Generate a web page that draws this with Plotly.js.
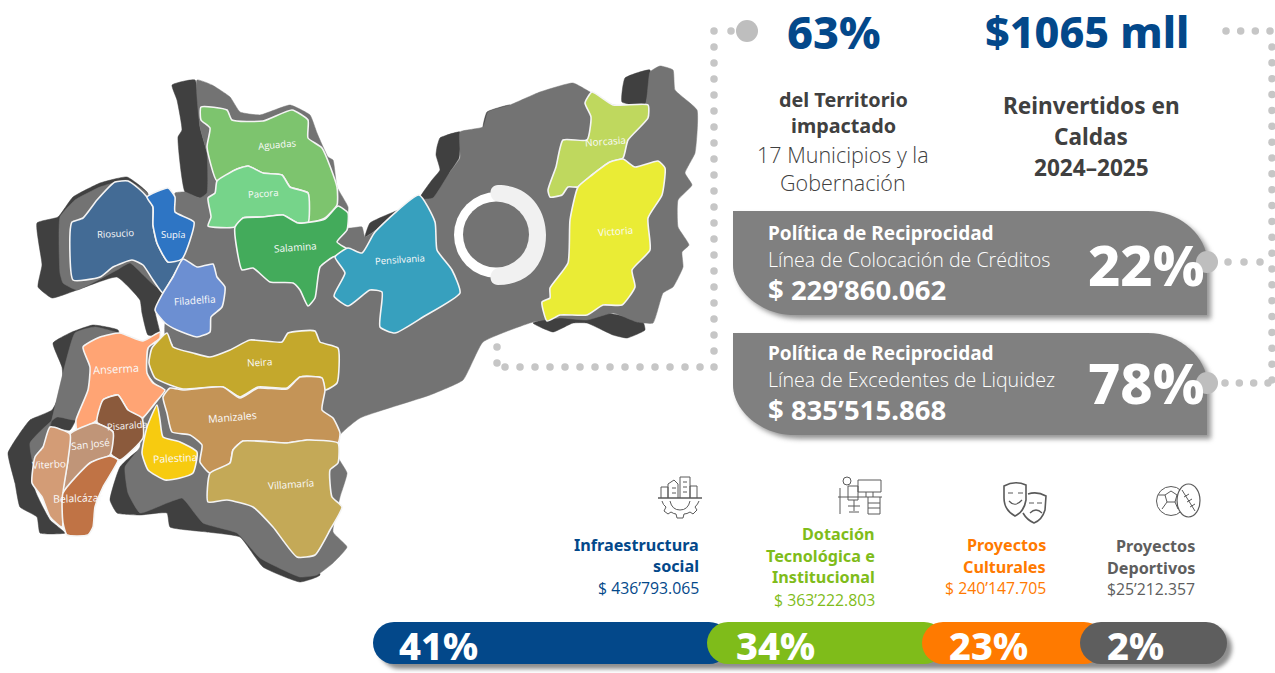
<!DOCTYPE html>
<html><head><meta charset="utf-8">
<script src="https://cdn.plot.ly/plotly-3.0.1.min.js"></script>
<style>html,body{margin:0;padding:0;background:#fff;overflow:hidden}#c{width:1275px;height:673px}</style>
</head><body><div id="c"></div>
<script>
// ---- Chart values ----
const headlineValues = ["63%", "$1065 mll"];
const policyShares = ["22%", "78%"];
const policyTitles = ["Política de Reciprocidad", "Política de Reciprocidad"];
const policyLines = ["Línea de Colocación de Créditos", "Línea de Excedentes de Liquidez"];
const policyAmounts = ["$ 229’860.062", "$ 835’515.868"];
const categoryShares = ["41%", "34%", "23%", "2%"];
const categoryColors = ["#03488A", "#7FBC1A", "#FF7A00", "#5E5E5E"];
const segmentStart = [373, 707, 922, 1080];
const segmentEnd = [730, 945, 1105, 1227];

// ---- Map regions (name, colour, outline) ----
const regionNames = ["Aguadas","Pacora","Salamina","Riosucio","Supía","Filadelfia","Anserma","Pisaralda","San José","Viterbo","Belalcázar","Palestina","Neira","Manizales","Villamaría","Pensilvania","Norcasia","Victoria"];
const regionColors = ["#7DC46E","#76D48A","#43AB5B","#436B95","#2E75C4","#6C8FD2","#FFA474","#8B5A3C","#C09578","#D39C76","#C07345","#F7CB10","#C4A82C","#C49457","#C4A957","#37A0BE","#BFD85E","#EAEC35"];
const regionOutlines = [
 [[201,107],[227,110],[232,120],[263,121],[292,110],[308,120],[308,138],[322,148],[337,187],[337,205],[325,218],[308,223],[308,193],[290,187],[282,175],[263,173],[248,166],[235,170],[217,181],[207,147],[210,128],[201,120]],
 [[217,181],[235,170],[248,166],[263,173],[282,175],[290,187],[308,193],[308,223],[298,223],[283,215],[263,217],[243,218],[235,227],[208,226],[211,217],[208,198],[215,193]],
 [[243,218],[263,217],[283,215],[298,223],[325,219],[338,206],[348,213],[347,230],[337,242],[350,251],[333,257],[320,267],[315,298],[308,306],[300,290],[293,283],[270,282],[253,268],[242,270],[237,250],[235,227]],
 [[72,222],[83,218],[97,200],[115,182],[128,181],[138,188],[147,197],[153,207],[153,225],[157,243],[168,262],[182,259],[170,282],[163,293],[153,280],[143,265],[132,260],[113,267],[100,277],[73,280],[70,233]],
 [[147,197],[168,188],[175,197],[175,212],[194,222],[182,259],[168,262],[157,243],[153,225],[153,207]],
 [[183,259],[197,267],[213,264],[217,277],[225,287],[222,307],[211,317],[210,332],[197,337],[177,330],[165,323],[155,310],[163,293],[173,277]],
 [[83,347],[100,337],[120,333],[143,341],[160,332],[160,338],[148,348],[147,373],[153,383],[165,390],[155,403],[142,418],[128,410],[118,395],[103,400],[97,420],[77,430],[76,420],[88,390],[90,367]],
 [[103,400],[118,395],[128,410],[142,418],[143,438],[120,460],[110,453],[113,432],[97,422]],
 [[70,434],[95,423],[113,432],[110,455],[90,463],[63,493],[68,460]],
 [[50,427],[70,434],[68,460],[63,493],[62,527],[50,517],[42,497],[32,483],[35,457],[43,447]],
 [[90,463],[110,456],[118,460],[103,487],[95,507],[93,527],[88,535],[67,535],[63,523],[63,493]],
 [[157,405],[160,420],[163,437],[180,442],[197,452],[193,473],[180,478],[165,480],[148,470],[142,453],[147,427]],
 [[167,333],[173,347],[193,353],[210,357],[230,350],[250,340],[282,342],[288,333],[315,331],[320,342],[338,348],[337,383],[325,390],[322,378],[300,377],[287,388],[258,387],[240,397],[223,387],[183,389],[170,385],[155,378],[149,363],[152,348]],
 [[170,388],[183,390],[223,387],[240,398],[258,388],[287,389],[300,377],[322,378],[325,390],[322,410],[333,418],[340,433],[338,443],[307,440],[287,443],[243,441],[233,450],[230,463],[210,473],[200,462],[202,445],[190,435],[172,432],[167,413],[163,397]],
 [[243,441],[287,443],[307,440],[338,443],[338,463],[330,470],[332,497],[342,507],[330,530],[315,555],[297,557],[273,527],[253,507],[227,500],[208,502],[210,473],[230,463],[233,450]],
 [[419,195],[435,222],[437,250],[452,270],[460,293],[423,317],[395,333],[380,327],[382,292],[370,290],[348,306],[334,296],[345,273],[335,257],[348,248],[362,253],[375,232]],
 [[592,92],[613,105],[648,105],[648,118],[628,140],[623,158],[610,162],[592,175],[578,187],[568,187],[562,195],[550,197],[548,190],[556,167],[563,140],[587,140],[591,117],[585,103]],
 [[623,159],[635,167],[658,161],[665,168],[662,195],[648,218],[650,250],[632,270],[635,287],[622,305],[603,305],[587,315],[560,315],[547,321],[542,302],[550,298],[550,288],[568,263],[570,220],[578,187],[592,175],[610,162]]
];
const regionLabelPos = [[277,144,-5,9.5],[263,193,-4,9.5],[295,247,-4,10],[115,233,-3,9.5],[173,234,0,9.5],[194,300,-4,10],[116,368,-3,11],[127,425,-4,9.5],[90,444,-6,10],[49,464,-3,10],[78,498,-2,10.5],[175,458,-3,10.5],[259,362,-3,10],[232,417,-5,10.5],[291,484,-4,10],[400,259,-4,9.5],[605,141,-4,10],[615,231,-4,10]];

const mapGray = [[197,80],[212,85],[230,97],[240,112],[260,115],[290,105],[310,115],[317,133],[328,157],[333,160],[337,187],[348,207],[347,228],[362,227],[365,237],[419,200],[433,198],[450,172],[460,158],[460,132],[483,127],[488,112],[510,105],[540,92],[573,83],[590,92],[613,105],[645,105],[650,72],[660,66],[673,70],[675,90],[697,110],[695,153],[685,173],[692,185],[678,200],[678,227],[689,245],[682,252],[683,267],[673,287],[663,293],[653,323],[637,322],[613,313],[587,320],[560,318],[533,322],[483,342],[463,380],[430,395],[360,418],[340,435],[338,457],[347,473],[340,497],[333,532],[347,547],[333,563],[317,575],[300,577],[260,558],[237,533],[203,523],[187,503],[182,498],[167,503],[140,513],[128,493],[125,467],[140,447],[143,420],[155,405],[165,390],[155,383],[147,373],[150,345],[173,345],[165,335],[165,323],[183,258],[194,222],[175,212],[175,193],[185,192],[200,198],[207,193],[207,153],[200,127]];
const grayWest = [[60,217],[75,200],[100,187],[127,180],[147,193],[153,225],[168,270],[157,287],[130,263],[117,270],[77,290],[63,283],[60,273]];
const graySouthWest = [[75,333],[95,327],[120,334],[100,345],[90,367],[88,390],[76,420],[57,417],[30,443],[35,470],[50,427]];
const darkShapes = [
 [[172,85],[195,80],[200,127],[207,153],[213,197],[200,198],[185,192],[178,137],[182,130],[177,100]],
 [[37,223],[58,217],[73,197],[100,183],[127,177],[147,192],[153,210],[170,290],[155,310],[160,335],[148,335],[142,313],[140,300],[117,277],[77,290],[52,298],[38,287],[42,265]],
 [[72,332],[93,325],[118,330],[120,340],[85,400],[70,430],[50,428],[35,460],[35,490],[50,520],[65,533],[40,533],[37,517],[20,507],[15,483],[8,453],[20,433],[30,420],[52,410],[63,387],[62,367],[53,343]],
 [[120,467],[110,500],[117,513],[140,515],[167,513],[170,527],[207,532],[240,537],[263,567],[300,582],[320,575],[300,540],[200,490],[140,450]],
 [[437,147],[440,138],[460,132],[459,158],[450,172],[435,202],[420,198],[432,180],[440,170],[436,155]],
 [[487,112],[510,105],[500,117],[483,128]],
 [[365,237],[370,223],[407,207],[373,232]],
 [[533,323],[560,316],[590,318],[607,313],[643,322],[645,330],[627,338],[613,335],[587,323],[573,323],[553,332]],
 [[622,102],[625,78],[650,70],[645,105]]
];

const poly = (pts, color, line, lw, smooth) => ({
  type:'scatter', mode:'lines', x:pts.concat([pts[0]]).map(p=>p[0]), y:pts.concat([pts[0]]).map(p=>p[1]),
  fill:'toself', fillcolor:color, hoverinfo:'skip', showlegend:false,
  line:{color:line, width:lw, shape:'spline', smoothing:smooth}
});

const traces = [];
darkShapes.forEach(d=>traces.push(poly(d,'#404040','#404040',0.5,0.4)));
[grayWest,graySouthWest,mapGray].forEach(d=>traces.push(poly(d,'#737373','#737373',0.5,0.4)));
regionOutlines.forEach((r,i)=>traces.push(poly(r,regionColors[i],'#F4F4F4',1.6,0.5)));

// dotted connector lines
function dots(a,b,step){const n=Math.round(Math.hypot(b[0]-a[0],b[1]-a[1])/step),o=[];for(let i=0;i<=n;i++)o.push([a[0]+(b[0]-a[0])*i/n,a[1]+(b[1]-a[1])*i/n]);return o;}
const dotRuns = [
 dots([731,31],[714,31],16.5), dots([714,47],[714,367],16), dots([700,367],[505,367],14.7), dots([497,363],[497,347],16),
 dots([1226,31],[1270,31],14.7), dots([1272,47],[1272,380],16), dots([1228,262],[1260,262],15), dots([1225,383],[1268,383],14.5)
].flat();
traces.push({type:'scatter',mode:'markers',x:dotRuns.map(p=>p[0]),y:dotRuns.map(p=>p[1]),marker:{color:'#C6C6C6',size:7.5},hoverinfo:'skip',showlegend:false});
traces.push({type:'scatter',mode:'markers',x:[747,1207,1207],y:[31,262,383],marker:{color:'#BEBEBE',size:22},hoverinfo:'skip',showlegend:false});

// stacked pill bar
traces.push({type:'bar',orientation:'h',y:[648],base:[379],x:[853],width:[42],marker:{color:'rgba(30,30,30,0.5)',cornerradius:21},hoverinfo:'skip',showlegend:false});
categoryShares.forEach((s,i)=>traces.push({type:'bar',orientation:'h',name:s,y:[643],base:[segmentStart[i]],x:[segmentEnd[i]-segmentStart[i]],width:[42],marker:{color:categoryColors[i],cornerradius:21},hoverinfo:'skip',showlegend:false}));

// panels
const panel = (o,t,b,c)=>({type:'path',layer:'below',path:`M${733+o},${t+o} L${1148+o},${t+o} C${1180+o},${t+o} ${1207+o},${t+25+o} ${1207+o},${t+50+o} L${1207+o},${b+o} L${795+o},${b+o} C${760+o},${b+o} ${733+o},${b-25+o} ${733+o},${b-50+o} Z`,fillcolor:c,line:{width:0}});
const stroke = (d,w)=>({type:'path',layer:'below',path:d,line:{color:'#5A5A5A',width:w||1},fillcolor:'rgba(0,0,0,0)'});
const circ = (cx,cy,rx,ry,f,layer)=>({type:'circle',layer:layer||'above',x0:cx-rx,x1:cx+rx,y0:cy-ry,y1:cy+ry,fillcolor:f,line:{width:0}});
const ring = (cx,cy,r)=>({type:'circle',layer:'below',x0:cx-r,x1:cx+r,y0:cy-r,y1:cy+r,line:{color:'#5A5A5A',width:1},fillcolor:'rgba(0,0,0,0)'});

const shapes = [
 panel(4,211,315,'rgba(80,80,80,0.6)'), panel(4,333,435,'rgba(80,80,80,0.6)'),
 panel(0,211,315,'#808080'), panel(0,333,435,'#808080'),
 circ(497,235,43,43,'#FFFFFF'),
 {type:'path',layer:'above',path:'M498,185 C530,185 546,210 546,235 C546,262 530,285 498,285 C488,285 488,270 498,268 L498,202 C488,200 488,185 498,185 Z',fillcolor:'#F1F1F1',line:{width:0}},
 {type:'path',layer:'above',path:'M497,202 L520,212 L524,258 L497,268 Z',fillcolor:'#F1F1F1',line:{width:0}},
 circ(496,234.5,33,33,'#737373'),
 // infrastructure icon
 stroke('M658,498 H702',1.3), stroke('M661,498 V487 H668 V498'), stroke('M668,498 V484 L674,480 L678,484 V498'), stroke('M672,488 H676 M672,493 H676'), stroke('M680,498 V477 H690 V498'), stroke('M683,482 H687 M683,487 H687 M683,492 H687'), stroke('M690,498 V486 H697 V498'),
 stroke('M662,501 Q663,505 666,507 L664,511 L668,514 L671,512 Q674,514 676,514 L677,518 L683,518 L684,514 Q687,514 690,512 L693,514 L697,510 L695,507 Q698,504 699,501'), stroke('M670,501 Q672,510 680,510 Q688,510 690,501'),
 // desk icon
 stroke('M838,497 H882',1.2), stroke('M840,488 V514'), stroke('M880,497 V514 H868 V497'), stroke('M868,503 H880 M868,508 H880'),
 stroke('M858,480 H881 V492 H858 Z M866,492 V497 M873,492 V497'), stroke('M848,486 H858 V500 H848 Z'), stroke('M848,506 H860 M854,500 V511 M849,512 H859'), ring(847,481,4),
 // masks icon
 stroke('M1004,486 Q1015,480 1026,485 L1026,500 Q1024,512 1015,516 Q1004,510 1004,498 Z',1.6),
 stroke('M1028,494 Q1037,491 1046,496 L1045,510 Q1042,520 1034,523 Q1027,520 1023,513',1.6),
 stroke('M1008,493 H1013 M1018,493 H1023 M1009,501 Q1015,508 1022,500 M1029,503 H1034 M1037,503 H1042 M1030,513 Q1036,507 1042,513',1.2),
 // balls icon
 ring(1171,501,14.5),
 {type:'circle',layer:'below',x0:1177,x1:1200,y0:484,y1:517,line:{color:'#5A5A5A',width:1.2},fillcolor:'#FFFFFF'},
 stroke('M1182,490 L1195,511 M1184,497 L1189,494 M1187,502 L1192,499 M1190,507 L1195,504'),
 stroke('M1165,495 L1171,491 L1177,495 L1175,502 L1167,502 Z M1165,495 L1158,495 M1167,502 L1162,509 M1175,502 L1178,509')
];

// text
const annotations = [];
const T = (text,x,y,size,color,anchor,weight,extra)=>annotations.push(Object.assign({text,x,y,xref:'x',yref:'y',showarrow:false,xanchor:anchor,yanchor:'middle',borderpad:0,
  font:{family:weight>=600?'Noto Sans':'Open Sans',size,color,weight}},extra||{}));

regionNames.forEach((n,i)=>{const p=regionLabelPos[i];T(n,p[0],p[1],p[3],'#FAFAFA','center',400,{textangle:p[2]});});

const navy='#03488A',ink='#404040';
T(headlineValues[0],834,31,45,navy,'center',800);
T(headlineValues[1],1087,31,43,navy,'center',800);
T('del Territorio',843,99,19.8,ink,'center',700);
T('impactado',843,125,19.8,ink,'center',700);
T('17 Municipios y la',843,154,21.5,ink,'center',300);
T('Gobernación',843,182,21.5,ink,'center',300);
T('Reinvertidos en',1091,105,22.6,ink,'center',700);
T('Caldas',1091,136,22.6,ink,'center',700);
T('2024–2025',1091,167,22.6,ink,'center',700);

[[233,259,289,264],[353,379,409,382]].forEach((ys,i)=>{
 T(policyTitles[i],767,ys[0],19,'#FFFFFF','left',700);
 T(policyLines[i],767,ys[1],19.6,'#FFFFFF','left',300);
 T(policyAmounts[i],767,ys[2],27.5,'#FFFFFF','left',700);
 T(policyShares[i],1205,ys[3],56,'#FFFFFF','right',800);
});

const catText = [
 [["Infraestructura",545],["social",566],["$ 436’793.065",588],700,0],
 [["Dotación",534],["Tecnológica e",556],["Institucional",577],["$ 363’222.803",600],876,1],
 [["Proyectos",545],["Culturales",567],["$ 240’147.705",588],1047,2],
 [["Proyectos",546],["Deportivos",568],["$25’212.357",589],1196,3]
];
catText.forEach(c=>{const col=categoryColors[c[c.length-1]],x=c[c.length-2],rows=c.slice(0,-2);
 rows.forEach((r,j)=>{const last=j===rows.length-1;T(r[0],x,r[1],last?15.8:16.2,col,'right',last?400:700);});});
[438,775,988,1135].forEach((x,i)=>T(categoryShares[i],x,645,38,'#FFFFFF','center',800));

const layout = {
  width:1275,height:673,margin:{l:0,r:0,t:0,b:0},paper_bgcolor:'#FFFFFF',plot_bgcolor:'#FFFFFF',
  showlegend:false,hovermode:false,barmode:'overlay',
  xaxis:{range:[0,1275],visible:false,fixedrange:true},
  yaxis:{range:[673,0],visible:false,fixedrange:true},
  shapes,annotations
};
Plotly.newPlot('c',traces,layout,{displayModeBar:false,staticPlot:true}).then(()=>{
  document.querySelectorAll('.shapelayer path').forEach(p=>{ const o=parseFloat(p.style.fillOpacity); if(o>0.5&&o<0.7) p.style.filter='blur(2.5px)'; });
  const b=document.querySelector('.barlayer .trace'); if(b) b.style.filter='blur(2px)';
});
</script></body></html>
